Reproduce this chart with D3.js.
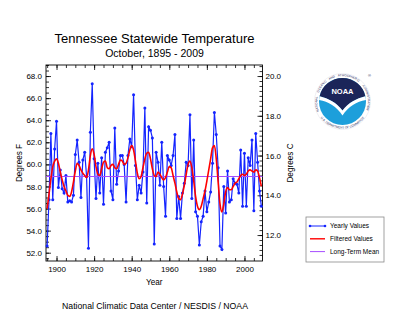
<!DOCTYPE html>
<html>
<head>
<meta charset="utf-8">
<script src="https://cdn.jsdelivr.net/npm/d3@7"></script>
<style>
  body { margin: 0; background: #fff; }
  svg { display: block; font-family: "Liberation Sans", Arial, Helvetica, sans-serif; }
  .tick line { stroke: #000; stroke-width: 0.8; }
  .tick text { font-size: 8px; fill: #000; }
  .unit { font-size: 8.2px; fill: #000; }
  .legend-texts { font-size: 6.5px; fill: #000; }
</style>
</head>
<body>
<div id="svg-container"></div>
<script>
////////////////////////////////////////////////////////////////////
////////////////////////////  Data  ////////////////////////////////
const years = d3.range(1895, 2010);

// October mean temperature (deg F)
const yearlyValues = [
  52.6, 56.8, 62.8, 56.8, 61.4, 63.9, 57.9, 59.5, 57.8, 57.4, // 1895-1904
  59.0, 56.6, 56.7, 56.6, 57.2, 60.9, 62.2, 60.2, 57.0, 60.4, // 1905-1914
  61.1, 58.9, 52.4, 62.9, 67.3, 60.5, 56.9, 60.1, 57.4, 60.6, // 1915-1924
  56.4, 61.1, 61.5, 62.0, 57.6, 56.8, 63.3, 58.2, 59.4, 60.8, // 1925-1934
  60.8, 60.0, 56.6, 60.8, 62.3, 61.6, 66.3, 59.9, 56.8, 58.1, // 1935-1944
  57.4, 59.3, 65.1, 56.5, 63.4, 63.1, 62.4, 52.8, 61.1, 60.2, // 1945-1954
  58.1, 62.0, 58.0, 55.3, 60.8, 60.4, 59.9, 60.8, 62.7, 55.1, // 1955-1964
  57.1, 55.1, 57.4, 58.3, 60.2, 59.9, 64.5, 56.9, 62.2, 55.7, // 1965-1974
  55.3, 52.7, 54.8, 55.3, 57.6, 55.7, 56.6, 57.5, 60.1, 64.7, // 1975-1984
  62.7, 59.7, 52.6, 52.3, 58.0, 55.6, 59.4, 56.6, 56.8, 58.7, // 1985-1994
  58.3, 58.2, 57.4, 61.3, 56.2, 61.0, 56.2, 60.6, 59.9, 62.2, // 1995-2004
  55.8, 62.8, 60.2, 57.6, 56.2                                // 2005-2009
];

// red smoothed curve
const filteredValues = [
  56.0, 57.3, 58.7, 59.8, 60.3, 60.5, 60.1, 59.3, 58.6, 58.0,
  57.6, 57.2, 57.1, 57.5, 58.4, 59.4, 60.1, 59.9, 59.5, 59.2,
  59.0, 58.8, 59.5, 60.8, 61.4, 60.9, 59.8, 59.1, 59.0, 59.6,
  60.2, 60.3, 59.7, 59.6, 59.9, 60.0, 59.7, 59.6, 60.0, 60.4,
  60.3, 60.0, 60.1, 60.6, 61.3, 61.7, 61.3, 60.3, 59.2, 58.7,
  58.9, 59.7, 60.5, 61.0, 61.1, 60.5, 59.6, 59.0, 58.9, 59.3,
  59.1, 58.8, 58.6, 58.8, 59.3, 59.8, 59.7, 59.0, 58.3, 57.5,
  56.9, 56.8, 57.3, 58.1, 59.1, 60.0, 60.3, 59.7, 58.5, 57.1,
  56.2, 55.9, 56.2, 56.9, 57.6, 58.5, 59.5, 60.5, 61.5, 61.7,
  60.5, 58.4, 56.4, 55.7, 56.4, 57.5, 57.9, 57.7, 57.7, 58.0,
  58.3, 58.4, 58.7, 59.0, 59.1, 59.0, 59.1, 59.4, 59.5, 59.4,
  59.3, 59.5, 59.4, 58.8, 58.0
];

const longTermMean = 58.9;

const xTickValues = [1900, 1920, 1940, 1960, 1980, 2000];
const fTickValues = [52, 54, 56, 58, 60, 62, 64, 66, 68];
const cTickValues = [12, 14, 16, 18, 20];
const legendLabels = ["Yearly Values", "Filtered Values", "Long-Term Mean"];
const sealTopWords = ["NATIONAL", "OCEANIC", "AND", "ATMOSPHERIC", "ADMINISTRATION"];

////////////////////////////////////////////////////////////////////
////////////////////////////  Init  ////////////////////////////////
const width = 400;
const height = 329;
const plot = { left: 46, right: 262.5, top: 65, bottom: 261 };

const svg = d3
  .select("#svg-container")
  .append("svg")
  .attr("width", width)
  .attr("height", height);

const blue = "#1424ff";
const red = "#ff0000";
const purple = "#a64dff";

// scales
const xScale = d3.scaleLinear().domain([1894.4, 2009.6]).range([plot.left, plot.right]);
const yScale = d3.scaleLinear().domain([51.25, 69.0]).range([plot.bottom, plot.top]);
const toC = (f) => ((f - 32) * 5) / 9;
const cScale = d3
  .scaleLinear()
  .domain(yScale.domain().map(toC))
  .range([plot.bottom, plot.top]);

// axes (IDL style: ticks pointing inward)
const xAxis = d3.axisBottom(xScale).tickValues(xTickValues).tickFormat(d3.format("d"))
  .tickSize(-5).tickSizeOuter(0).tickPadding(5);
const xAxisMinor = d3.axisBottom(xScale).tickValues(d3.range(1895, 2010, 5))
  .tickFormat("").tickSize(-3).tickSizeOuter(0);
const xTopAxis = d3.axisTop(xScale).tickValues(xTickValues).tickFormat("")
  .tickSize(-5).tickSizeOuter(0);
const xTopMinor = d3.axisTop(xScale).tickValues(d3.range(1895, 2010, 5))
  .tickFormat("").tickSize(-3).tickSizeOuter(0);

const yAxis = d3.axisLeft(yScale).tickValues(fTickValues).tickFormat(d3.format(".1f"))
  .tickSize(-5).tickSizeOuter(0).tickPadding(4);
const yAxisMinor = d3.axisLeft(yScale).tickValues(d3.range(51.5, 69.01, 0.5))
  .tickFormat("").tickSize(-3).tickSizeOuter(0);
const cAxis = d3.axisRight(cScale).tickValues(cTickValues).tickFormat(d3.format(".1f"))
  .tickSize(-5).tickSizeOuter(0).tickPadding(3);
const cAxisMinor = d3.axisRight(cScale).tickValues(d3.range(11, 20.6, 0.25))
  .tickFormat("").tickSize(-3).tickSizeOuter(0);

function drawAxis(axis, tx, ty) {
  const g = svg.append("g").attr("transform", `translate(${tx},${ty})`).call(axis);
  g.select(".domain").remove();
  return g;
}

drawAxis(xAxisMinor, 0, plot.bottom);
drawAxis(xAxis, 0, plot.bottom);
drawAxis(xTopMinor, 0, plot.top);
drawAxis(xTopAxis, 0, plot.top);
drawAxis(yAxisMinor, plot.left, 0);
drawAxis(yAxis, plot.left, 0);
drawAxis(cAxisMinor, plot.right, 0);
drawAxis(cAxis, plot.right, 0);

svg.selectAll(".tick text").attr("font-family", null).attr("font-size", null);

// frame
svg
  .append("rect")
  .attr("x", plot.left)
  .attr("y", plot.top)
  .attr("width", plot.right - plot.left)
  .attr("height", plot.bottom - plot.top)
  .attr("fill", "none")
  .attr("stroke", "#000")
  .attr("stroke-width", 0.9);

////////////////////////////////////////////////////////////////////
////////////////////////////  Marks  ///////////////////////////////
const data = years.map((y, i) => ({ year: y, value: yearlyValues[i], filtered: filteredValues[i] }));

const plotArea = svg.append("g");

plotArea
  .append("path")
  .datum(data)
  .attr("fill", "none")
  .attr("stroke", blue)
  .attr("stroke-width", 1.2)
  .attr("d", d3.line().x((d) => xScale(d.year)).y((d) => yScale(d.value)));

plotArea
  .selectAll("circle.pt")
  .data(data)
  .enter()
  .append("circle")
  .attr("class", "pt")
  .attr("cx", (d) => xScale(d.year))
  .attr("cy", (d) => yScale(d.value))
  .attr("r", 1.5)
  .attr("fill", blue);

plotArea
  .append("line")
  .attr("x1", plot.left)
  .attr("x2", plot.right)
  .attr("y1", yScale(longTermMean))
  .attr("y2", yScale(longTermMean))
  .attr("stroke", purple)
  .attr("stroke-width", 1.1);

plotArea
  .append("path")
  .datum(data)
  .attr("fill", "none")
  .attr("stroke", red)
  .attr("stroke-width", 1.6)
  .attr("d", d3.line().curve(d3.curveMonotoneX).x((d) => xScale(d.year)).y((d) => yScale(d.filtered)));

////////////////////////////////////////////////////////////////////
////////////////////////////  Text  ////////////////////////////////
svg.append("text")
  .attr("x", 154.5).attr("y", 43)
  .attr("text-anchor", "middle")
  .attr("font-size", 13)
  .text("Tennessee Statewide Temperature");

svg.append("text")
  .attr("x", 154.5).attr("y", 57)
  .attr("text-anchor", "middle")
  .attr("font-size", 10.5)
  .text("October, 1895 - 2009");

svg.append("text")
  .attr("class", "unit")
  .attr("text-anchor", "middle")
  .attr("transform", `translate(${(plot.left + plot.right) / 2}, 285)`)
  .text("Year");

svg.append("text")
  .attr("class", "unit")
  .attr("text-anchor", "middle")
  .attr("transform", `translate(22, ${(plot.top + plot.bottom) / 2}) rotate(-90)`)
  .text("Degrees F");

svg.append("text")
  .attr("class", "unit")
  .attr("text-anchor", "middle")
  .attr("transform", `translate(293, ${(plot.top + plot.bottom) / 2}) rotate(-90)`)
  .text("Degrees C");

svg.append("text")
  .attr("x", 155).attr("y", 309)
  .attr("text-anchor", "middle")
  .attr("font-size", 8.7)
  .text("National Climatic Data Center / NESDIS / NOAA");

////////////////////////////////////////////////////////////////////
////////////////////////////  Legend  //////////////////////////////
const legend = svg.append("g").attr("transform", "translate(306,217)");

legend.append("rect")
  .attr("width", 78).attr("height", 45)
  .attr("fill", "#fff")
  .attr("stroke", "#8a8a8a")
  .attr("stroke-width", 0.8);

const legendColors = [blue, red, purple];

legend.selectAll("line.legend-line")
  .data(legendLabels)
  .enter()
  .append("line")
  .attr("class", "legend-line")
  .attr("x1", 4).attr("x2", 19)
  .attr("y1", (d, i) => 9 + i * 12.8)
  .attr("y2", (d, i) => 9 + i * 12.8)
  .attr("stroke", (d, i) => legendColors[i])
  .attr("stroke-width", (d, i) => (i === 1 ? 1.4 : 1));

legend.selectAll("circle.legend-dot")
  .data([4, 19])
  .enter()
  .append("circle")
  .attr("cx", (d) => d).attr("cy", 9)
  .attr("r", 1.3)
  .attr("fill", blue);

legend.selectAll("text.legend-texts")
  .data(legendLabels)
  .enter()
  .append("text")
  .attr("class", "legend-texts")
  .attr("x", 24)
  .attr("y", (d, i) => 11.3 + i * 12.8)
  .text((d) => d);

////////////////////////////////////////////////////////////////////
////////////////////////////  NOAA logo  ///////////////////////////
const logo = svg.append("g").attr("transform", "translate(342.5,101.5)");
const rOuter = 28, rInner = 23.5;
const navy = "#1b2559";

logo.append("circle").attr("r", rOuter).attr("fill", "#fff").attr("stroke", "#d8d8e4").attr("stroke-width", 0.4);
logo.append("circle").attr("r", rInner).attr("fill", "#1d9fdb");
logo.append("path")
  .attr("fill", navy)
  .attr("d", "M-22.9,-5.3 A23.5,23.5 0 0 1 22.9,-5.3 C14,-3 6,1 0,9 C-6,1 -14,-3 -22.9,-5.3 Z");
logo.append("path")
  .attr("fill", "#fff")
  .attr("d", "M-23.4,-1.5 C-14,0 -6,5 0,14 C6,5 14,0 23.4,-1.5 L22.9,-5.3 C14,-3 6,1 0,9 C-6,1 -14,-3 -22.9,-5.3 Z");

// ring lettering: one arc per word so the words stay on the ring
const defs = svg.append("defs");
const ringR = 25.3;
const degPerChar = 4.9;
const pt = (a, r) => [r * Math.sin((a * Math.PI) / 180), -r * Math.cos((a * Math.PI) / 180)];
const totalChars = d3.sum(sealTopWords, (w) => w.length) + sealTopWords.length - 1;
let a = -(totalChars * degPerChar) / 2;
sealTopWords.forEach((w, i) => {
  const a0 = a, a1 = a + w.length * degPerChar;
  const p0 = pt(a0, ringR), p1 = pt(a1, ringR);
  defs.append("path").attr("id", `ring-w${i}`)
    .attr("d", `M${p0[0]},${p0[1]} A${ringR},${ringR} 0 0 1 ${p1[0]},${p1[1]}`);
  logo.append("text")
    .attr("font-size", 3)
    .attr("fill", navy)
    .append("textPath")
    .attr("href", `#ring-w${i}`)
    .attr("startOffset", "50%")
    .attr("text-anchor", "middle")
    .text(w);
  a = a1 + degPerChar;
});

defs.append("path").attr("id", "ring-bottom")
  .attr("d", "M-27.2,0 A27.2,27.2 0 0 0 27.2,0");

logo.append("text")
  .attr("font-size", 3)
  .attr("fill", navy)
  .append("textPath")
  .attr("href", "#ring-bottom")
  .attr("startOffset", "50%")
  .attr("text-anchor", "middle")
  .text("U.S. DEPARTMENT OF COMMERCE");

logo.append("text")
  .attr("y", -8)
  .attr("text-anchor", "middle")
  .attr("font-size", 7.5)
  .attr("font-weight", "bold")
  .attr("fill", "#fff")
  .text("NOAA");

logo.append("text")
  .attr("x", 25.5).attr("y", -25)
  .attr("font-size", 4)
  .attr("fill", navy)
  .text("®");
</script>
</body>
</html>
